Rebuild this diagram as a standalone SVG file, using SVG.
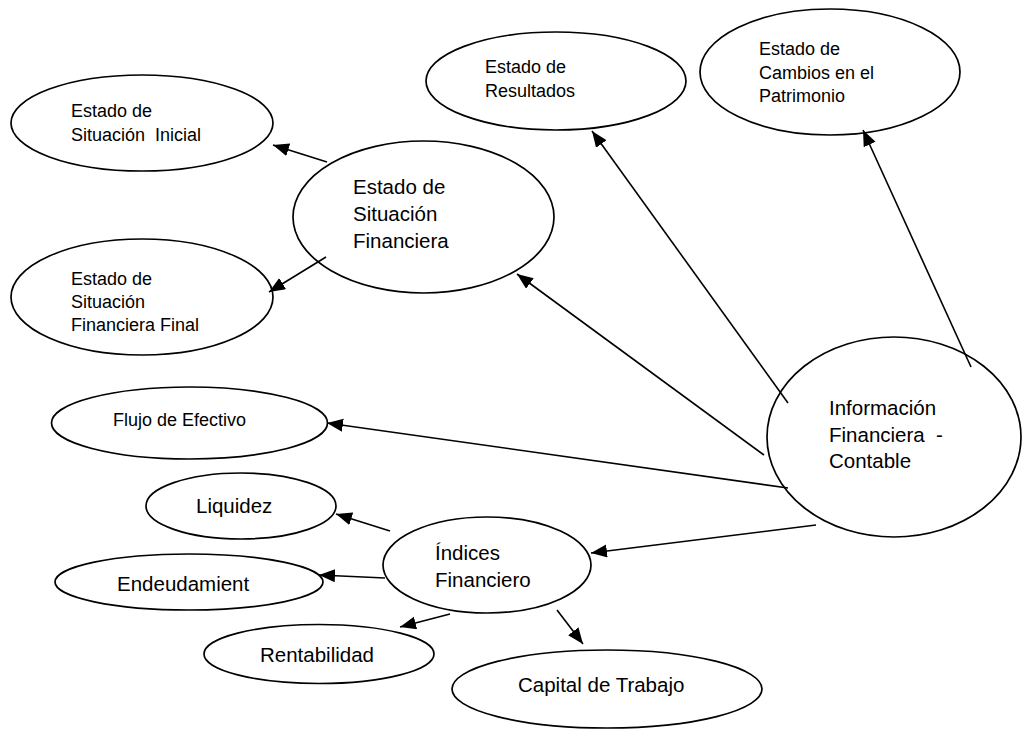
<svg xmlns="http://www.w3.org/2000/svg" width="1023" height="729" viewBox="0 0 1023 729">
<style>
.n ellipse{fill:#fff;stroke:#000;stroke-width:1.7}
.s{font-family:"Liberation Sans",Arial,sans-serif;font-size:18px;fill:#000}
.m{font-family:"Liberation Sans",Arial,sans-serif;font-size:20.5px;fill:#000}
#edges line{stroke:#000;stroke-width:1.6;marker-end:url(#ah)}
</style>
<defs>
<marker id="ah" markerUnits="userSpaceOnUse" markerWidth="17" markerHeight="14" refX="16" refY="6.5" orient="auto">
<path d="M0,0 L16,6.5 L0,13 z" fill="#000"/>
</marker>
</defs>
<rect width="1023" height="729" fill="#fff"/>
<g id="nodes">
<g id="inicial" class="n"><ellipse cx="142" cy="123" rx="131" ry="48"/>
<text class="s" x="71" y="117">Estado de</text><text class="s" x="71" y="141" xml:space="preserve">Situación  Inicial</text></g>
<g id="final" class="n"><ellipse cx="142" cy="297" rx="131" ry="58"/>
<text class="s" x="71" y="285">Estado de</text><text class="s" x="71" y="308">Situación</text><text class="s" x="71" y="331">Financiera Final</text></g>
<g id="situacion" class="n"><ellipse cx="423.5" cy="217" rx="130.5" ry="76"/>
<text class="m" x="353" y="194">Estado de</text><text class="m" x="353" y="221">Situación</text><text class="m" x="353" y="247.5">Financiera</text></g>
<g id="resultados" class="n"><ellipse cx="556" cy="81" rx="130" ry="49"/>
<text class="s" x="485" y="73">Estado de</text><text class="s" x="485" y="96.5">Resultados</text></g>
<g id="cambios" class="n"><ellipse cx="830" cy="72" rx="130" ry="63"/>
<text class="s" x="759" y="55">Estado de</text><text class="s" x="759" y="78.5">Cambios en el</text><text class="s" x="759" y="102">Patrimonio</text></g>
<g id="informacion" class="n"><ellipse cx="894" cy="437" rx="127" ry="100"/>
<text class="m" x="829" y="415">Información</text><text class="m" x="829" y="442" xml:space="preserve">Financiera  -</text><text class="m" x="829" y="468">Contable</text></g>
<g id="flujo" class="n"><ellipse cx="189.5" cy="423" rx="138" ry="36"/>
<text class="s" x="113" y="426">Flujo de Efectivo</text></g>
<g id="liquidez" class="n"><ellipse cx="241" cy="506" rx="95" ry="33"/>
<text class="m" x="196" y="513">Liquidez</text></g>
<g id="endeudamiento" class="n"><ellipse cx="189" cy="582" rx="134" ry="28"/>
<text class="m" x="117" y="591">Endeudamient</text></g>
<g id="rentabilidad" class="n"><ellipse cx="319" cy="654" rx="115" ry="29.5"/>
<text class="m" x="260" y="662">Rentabilidad</text></g>
<g id="indices" class="n"><ellipse cx="487" cy="565" rx="104" ry="48"/>
<text class="m" x="435" y="560">Índices</text><text class="m" x="435" y="587">Financiero</text></g>
<g id="capital" class="n"><ellipse cx="607" cy="689" rx="155" ry="39"/>
<text class="m" x="518" y="692">Capital de Trabajo</text></g>
</g>
<g id="edges">
<line x1="327" y1="162" x2="273" y2="145"/>
<line x1="326" y1="257" x2="269" y2="292"/>
<line x1="788" y1="403" x2="592" y2="131"/>
<line x1="764" y1="455" x2="517" y2="274"/>
<line x1="971" y1="367" x2="863" y2="130"/>
<line x1="788" y1="488" x2="327" y2="423"/>
<line x1="816" y1="525" x2="591" y2="553"/>
<line x1="390" y1="531" x2="336" y2="514"/>
<line x1="385" y1="578" x2="319" y2="575"/>
<line x1="450" y1="614" x2="400" y2="627"/>
<line x1="557" y1="610" x2="583" y2="644"/>
</g>
</svg>
